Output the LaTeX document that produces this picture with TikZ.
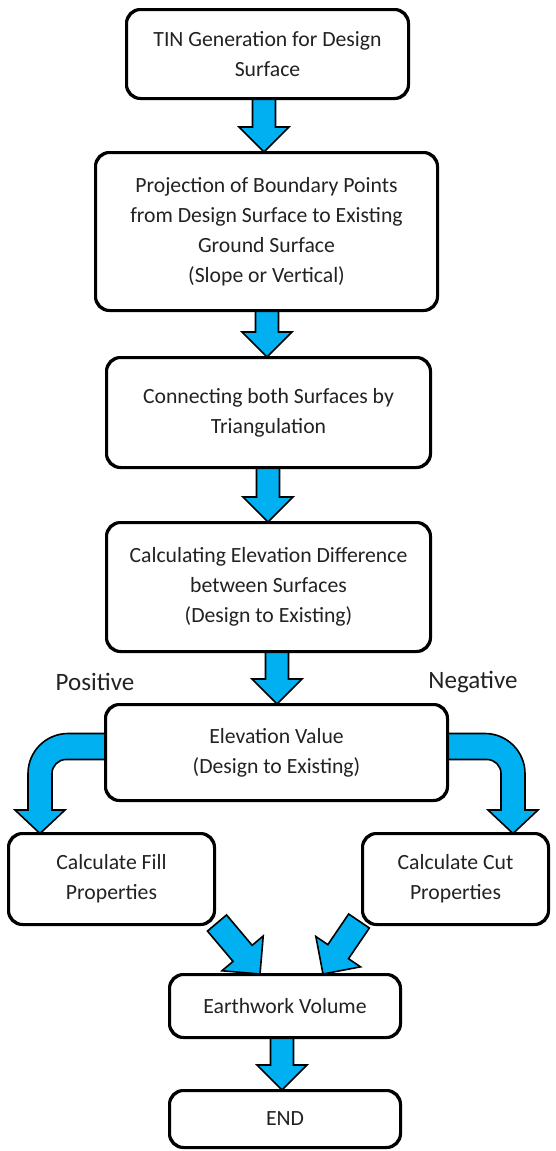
\documentclass[tikz,border=0pt]{standalone}
\usepackage{fontspec}
\setmainfont{Carlito}
\usetikzlibrary{calc}
\definecolor{arrowblue}{HTML}{00B0F0}
\definecolor{txt}{HTML}{222222}
\tikzset{
  box/.style={draw=black, line width=2pt, rounded corners=14pt, fill=white, align=center,
    inner sep=0pt, text=txt, font=\fontsize{21.7}{30}\selectfont},
  barrow/.style={fill=arrowblue, draw=black, line width=1.6pt, line join=miter},
  lbl/.style={text=txt, font=\fontsize{25}{30}\selectfont, inner sep=0pt}
}
\newcommand{\blockarr}[5]{%
  \coordinate (ba-s) at (#1);
  \coordinate (ba-e) at (#2);
  \coordinate (ba-h) at ($(ba-e)!#5!(ba-s)$);
  \filldraw[barrow] ($(ba-s)!#3!90:(ba-e)$) -- ($(ba-h)!#3!90:(ba-e)$) --
    ($(ba-h)!#4!90:(ba-e)$) -- (ba-e) -- ($(ba-h)!#4!-90:(ba-e)$) --
    ($(ba-h)!#3!-90:(ba-e)$) -- ($(ba-s)!#3!-90:(ba-e)$) -- cycle;
}
\begin{document}
\begin{tikzpicture}[x=1pt,y=-1pt]
\useasboundingbox (0,0) rectangle (556,1151);
% boxes (positions)
\path
 (267.5,54) node[box, minimum width=281pt, minimum height=88pt] (b1) {TIN Generation for Design\\Surface}
 (266.5,231.5) node[box, minimum width=341pt, minimum height=157pt] (b2) {Projection of Boundary Points\\from Design Surface to Existing\\Ground Surface\\(Slope or Vertical)}
 (268.5,412.5) node[box, minimum width=323pt, minimum height=109pt] (b3) {Connecting both Surfaces by\\Triangulation}
 (268.5,587) node[box, minimum width=323pt, minimum height=128pt] (b4) {Calculating Elevation Difference\\between Surfaces\\(Design to Existing)}
 (276.5,752.5) node[box, minimum width=341pt, minimum height=95pt] (b5) {Elevation Value\\(Design to Existing)}
 (111.5,879) node[box, minimum width=205pt, minimum height=90pt] (b6) {Calculate Fill\\Properties}
 (455.5,879) node[box, minimum width=185pt, minimum height=90pt] (b7) {Calculate Cut\\Properties}
 (285,1006) node[box, minimum width=230pt, minimum height=62pt] (b8) {Earthwork Volume}
 (285,1119) node[box, minimum width=230pt, minimum height=56pt] (b9) {END};
% straight block arrows
\blockarr{[xshift=-3.5pt]b1.south}{[xshift=-2.5pt]b2.north}{11.5pt}{25pt}{25pt}
\blockarr{[xshift=0.5pt]b2.south}{[xshift=-1.5pt]b3.north}{11.5pt}{25pt}{25pt}
\blockarr{[xshift=-0.5pt]b3.south}{[xshift=-0.5pt]b4.north}{11.5pt}{25pt}{25pt}
\blockarr{[xshift=8.5pt]b4.south}{[xshift=0.5pt]b5.north}{11.5pt}{25pt}{25pt}
\blockarr{[xshift=-3pt]b8.south}{[xshift=-3pt]b9.north}{11.5pt}{25pt}{25pt}
% diagonal arrows
\blockarr{[shift={(2pt,2pt)}]b6.south east}{[xshift=-25pt]b8.north}{12.5pt}{27pt}{27pt}
\blockarr{[shift={(-3pt,4pt)}]b7.south west}{[xshift=38pt]b8.north}{12.5pt}{27pt}{27pt}
% bent arrows
\filldraw[barrow] (106,733.5) -- (68,733.5) .. controls (46,733.5) and (28,751.5) .. (28,773.5)
  -- (28,810) -- (15,810) -- (40,833.5) -- (65,810) -- (52,810) -- (52,773.5)
  .. controls (52,765.8) and (58.3,759.5) .. (66,759.5) -- (106,759.5) -- cycle;
\filldraw[barrow] (447,733.5) -- (485,733.5) .. controls (507,733.5) and (525,751.5) .. (525,773.5)
  -- (525,810) -- (538,810) -- (513,833.5) -- (488,810) -- (501,810) -- (501,773.5)
  .. controls (501,765.8) and (494.7,759.5) .. (487,759.5) -- (447,759.5) -- cycle;
% redraw boxes on top
\foreach \n in {b1,b2,b3,b4,b5,b6,b7,b8,b9} {
  \draw[line width=2pt, rounded corners=14pt] (\n.north west) rectangle (\n.south east);
}
% labels
\node[lbl] (pos) at (95,682) {Positive};
\node[lbl] (neg) at (473,682) {Negative};
\end{tikzpicture}
\end{document}
